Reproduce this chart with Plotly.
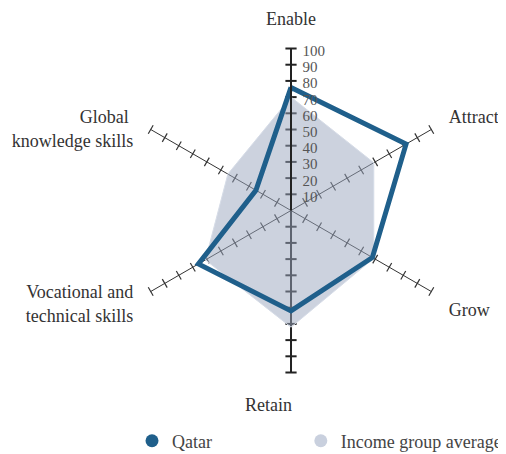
import plotly.graph_objects as go

# pillar order, clockwise from the top
# (blank lines / trailing spaces nudge the multi-line labels like the original)
NB = "\u00a0"
CATEGORIES = [
    "Enable",
    "Attract",
    "Grow",
    "Retain" + NB * 10,
    "Vocational and<br>technical skills" + ("<br>" + NB) * 2,
    (NB + "<br>") * 3 + "Global" + NB + "<br>knowledge skills",
]
QATAR = [76, 82, 58, 62, 66, 25]
INCOME_AVG = [70, 59, 59, 72, 61, 45]
TICKS = [10, 20, 30, 40, 50, 60, 70, 80, 90, 100]

BLUE = "#1f5f8b"
GRAY_LEG = "#c9d0de"
FONT = "Liberation Serif"


def closed(vals):
    return list(vals) + [vals[0]]


fig = go.Figure()

# thick lower half of the vertical axis (upper half is the radial axis line)
fig.add_trace(go.Scatterpolar(
    r=[0, 100], theta=[CATEGORIES[3]] * 2, mode="lines",
    line=dict(color="#222", width=2), hoverinfo="skip", showlegend=False,
))

# tick marks across every spoke
vert = [CATEGORIES[0], CATEGORIES[3]]
fig.add_trace(go.Scatterpolar(
    r=TICKS * 2, theta=[c for c in vert for _ in TICKS], mode="markers",
    marker=dict(symbol="line-ew", size=8, line=dict(color="#222", width=2)),
    hoverinfo="skip", showlegend=False,
))
for cats, ang in (([CATEGORIES[1], CATEGORIES[4]], -30),
                  ([CATEGORIES[2], CATEGORIES[5]], 30)):
    fig.add_trace(go.Scatterpolar(
        r=TICKS * 2, theta=[c for c in cats for _ in TICKS], mode="markers",
        marker=dict(symbol="line-ns", size=7, angle=ang,
                    line=dict(color="#333", width=1.2)),
        hoverinfo="skip", showlegend=False,
    ))

fig.add_trace(go.Scatterpolar(
    r=closed(INCOME_AVG), theta=closed(CATEGORIES), mode="lines",
    fill="toself", fillcolor="rgba(153,165,189,0.5)",
    line=dict(color="rgba(214,220,231,1)", width=1),
    name="Income group average", showlegend=False,
))
fig.add_trace(go.Scatterpolar(
    r=closed(QATAR), theta=closed(CATEGORIES), mode="lines",
    line=dict(color=BLUE, width=5), name="Qatar", showlegend=False,
))

# legend-only entries (round swatches)
fig.add_trace(go.Scatterpolar(
    r=[None], theta=[None], mode="markers", name="Qatar",
    marker=dict(color=BLUE, size=13), legend="legend",
))
fig.add_trace(go.Scatterpolar(
    r=[None], theta=[None], mode="markers", name="Income group average",
    marker=dict(color=GRAY_LEG, size=13), legend="legend2",
))

leg_common = dict(orientation="h", yanchor="middle", y=0.0291,
                  xanchor="left", bgcolor="rgba(0,0,0,0)",
                  font=dict(family=FONT, size=18, color="#444"))

# page body has an 8px margin, so the figure is 8px smaller than the window
fig.update_layout(
    width=498, height=446,
    margin=dict(l=0, r=0, t=0, b=0, autoexpand=False),
    paper_bgcolor="white",
    font=dict(family=FONT, color="#333"),
    polar=dict(
        domain=dict(x=[0.2430, 0.8936], y=[0.1827, 0.9092]),
        bgcolor="white",
        angularaxis=dict(
            type="category", categoryarray=CATEGORIES,
            rotation=90, direction="clockwise",
            showline=False, showgrid=True, gridcolor="#333", gridwidth=1,
            ticks="outside", ticklen=16, tickcolor="rgba(0,0,0,0)",
            tickfont=dict(family=FONT, size=18, color="#333"),
        ),
        radialaxis=dict(
            range=[0, 100], angle=90, side="clockwise",
            showgrid=False, showline=True, linecolor="#222", linewidth=2,
            tickvals=TICKS, ticks="",
            tickfont=dict(family=FONT, size=15, color="#555"),
        ),
    ),
    legend=dict(x=0.249, **leg_common),
    legend2=dict(x=0.588, **leg_common),
)

fig.write_html("out.html")
